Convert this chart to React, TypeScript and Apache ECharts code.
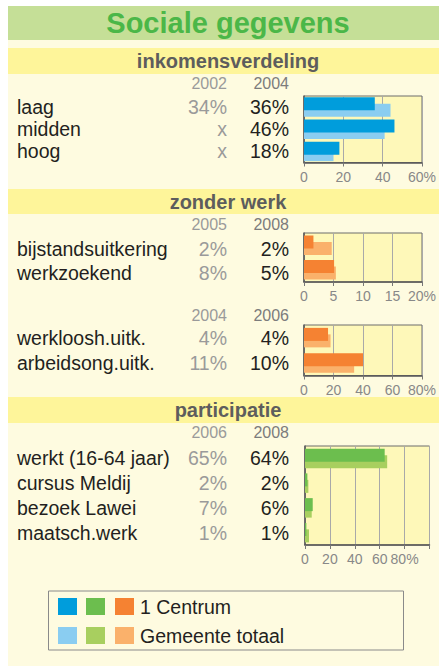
import React, { useEffect, useRef } from 'react';
import * as echarts from 'echarts';

// ---------- data ----------
const title = 'Sociale gegevens';
const sectionTitles = ['inkomensverdeling', 'zonder werk', 'participatie'];

const incomeCats = ['laag', 'midden', 'hoog'];
const incomeYears = ['2002', '2004'];
const incomeCol1 = ['34%', 'x', 'x'];
const incomeCol2 = ['36%', '46%', '18%'];
const incomeCentrum = [36, 46, 18];
const incomeGemeente = [44, 41, 15];
const incomeTicks = ['0', '20', '40', '60%'];

const benefitCats = ['bijstandsuitkering', 'werkzoekend'];
const benefitYears = ['2005', '2008'];
const benefitCol1 = ['2%', '8%'];
const benefitCol2 = ['2%', '5%'];
const benefitCentrum = [1.6, 5.1];
const benefitGemeente = [4.7, 5.4];
const benefitTicks = ['0', '5', '10', '15', '20%'];

const insuranceCats = ['werkloosh.uitk.', 'arbeidsong.uitk.'];
const insuranceYears = ['2004', '2006'];
const insuranceCol1 = ['4%', '11%'];
const insuranceCol2 = ['4%', '10%'];
const insuranceCentrum = [16.3, 40];
const insuranceGemeente = [18, 34];
const insuranceTicks = ['0', '20', '40', '60', '80%'];

const partCats = ['werkt (16-64 jaar)', 'cursus Meldij', 'bezoek Lawei', 'maatsch.werk'];
const partYears = ['2006', '2008'];
const partCol1 = ['65%', '2%', '7%', '1%'];
const partCol2 = ['64%', '2%', '6%', '1%'];
const partCentrum = [64, 1.9, 6.2, 1.1];
const partGemeente = [66, 2.7, 5.4, 3.2];
const partTicks = ['0', '20', '40', '60', '80%', ''];

const legendLabels = ['1 Centrum', 'Gemeente totaal'];
const legendDark = ['#009ddc', '#6cbe4e', '#f58232'];
const legendLight = ['#8acdf1', '#a8cf5f', '#fab16b'];

// ---------- styles ----------
const FONT = "'Liberation Sans', Arial, Helvetica, sans-serif";
const TEXT = '#231f20';
const GREY1 = '#9a9a9a';
const GREY2 = '#7c7c7c';
const ROW_FS = 19.5;

const blocks = [
  {
    cats: incomeCats, years: incomeYears, col1: incomeCol1, col2: incomeCol2,
    centrum: incomeCentrum, gemeente: incomeGemeente, ticks: incomeTicks,
    max: 60, interval: 20, dark: legendDark[0], light: legendLight[0],
    grid: { left: 304, top: 96, width: 125, height: 66.5 }, margin: 15, pad: 0, yearY: 83,
  },
  {
    cats: benefitCats, years: benefitYears, col1: benefitCol1, col2: benefitCol2,
    centrum: benefitCentrum, gemeente: benefitGemeente, ticks: benefitTicks,
    max: 20, interval: 5, dark: legendDark[2], light: legendLight[2],
    grid: { left: 304, top: 233, width: 125, height: 49 }, margin: 15, pad: 7, yearY: 224.5,
  },
  {
    cats: insuranceCats, years: insuranceYears, col1: insuranceCol1, col2: insuranceCol2,
    centrum: insuranceCentrum, gemeente: insuranceGemeente, ticks: insuranceTicks,
    max: 80, interval: 20, dark: legendDark[2], light: legendLight[2],
    grid: { left: 304, top: 325, width: 125, height: 50.5 }, margin: 15, pad: 0, yearY: 315,
  },
  {
    cats: partCats, years: partYears, col1: partCol1, col2: partCol2,
    centrum: partCentrum, gemeente: partGemeente, ticks: partTicks,
    max: 100, interval: 20, dark: legendDark[1], light: legendLight[1],
    grid: { left: 305, top: 446, width: 124.5, height: 99 }, margin: 16, pad: 0, yearY: 432.5,
  },
];

const bands = [
  { y: 48, h: 26 },
  { y: 189, h: 25 },
  { y: 397, h: 26 },
];

function App() {
  const ref = useRef<HTMLDivElement>(null);

  useEffect(() => {
    if (!ref.current) return;
    const chart = echarts.init(ref.current, null, { renderer: 'svg' });

    const grids: any[] = [];
    const xAxes: any[] = [];
    const yAxes: any[] = [];
    const series: any[] = [];
    const graphics: any[] = [];

    // backgrounds
    graphics.push({ type: 'rect', z: -10, shape: { x: 8, y: 6, width: 440, height: 670 }, style: { fill: '#fefbe0' } });
    graphics.push({ type: 'rect', z: -9, shape: { x: 8, y: 6, width: 440, height: 34 }, style: { fill: '#c5df97' } });
    graphics.push({
      type: 'text', z: 5, x: 228, y: 23,
      style: { text: title, fill: '#4bb748', font: `bold 29px ${FONT}`, align: 'center', verticalAlign: 'middle' },
    });
    bands.forEach((b, i) => {
      graphics.push({ type: 'rect', z: -9, shape: { x: 8, y: b.y, width: 440, height: b.h }, style: { fill: '#fef59a' } });
      graphics.push({
        type: 'text', z: 5, x: 228, y: b.y + b.h / 2,
        style: { text: sectionTitles[i], fill: '#5d5d5d', font: `bold 20px ${FONT}`, align: 'center', verticalAlign: 'middle' },
      });
    });

    blocks.forEach((b, i) => {
      grids.push({
        ...b.grid,
        show: true,
        backgroundColor: '#fef8b9',
        borderColor: '#6d6d6d',
        borderWidth: 1,
        containLabel: false,
      });
      xAxes.push({
        type: 'value', gridIndex: i, min: 0, max: b.max, interval: b.interval,
        axisLine: { show: true, lineStyle: { color: '#555', width: 1.5 } },
        axisTick: { show: true, length: 4, lineStyle: { color: '#777' } },
        splitLine: { show: true, lineStyle: { color: '#a9a9a9', width: 1 } },
        axisLabel: {
          show: true, color: '#888', fontSize: 14, fontFamily: FONT, margin: 7,
          formatter: (v: number) => b.ticks[Math.round(v / b.interval)] ?? '',
        },
      });
      yAxes.push({
        type: 'category', gridIndex: i, inverse: true, data: b.cats,
        axisLine: { show: true, lineStyle: { color: '#555', width: 1.5 } },
        axisTick: { show: false },
        splitLine: { show: false },
        axisLabel: {
          interval: 0, margin: b.margin, padding: [b.pad, 0, 0, 0],
          formatter: (v: string, idx: number) => `{a|${v}}{b|${b.col1[idx]}}{c|${b.col2[idx]}}`,
          rich: {
            a: { width: 150, align: 'left', color: TEXT, fontSize: ROW_FS, fontFamily: FONT },
            b: { width: 60, align: 'right', color: GREY1, fontSize: ROW_FS, fontFamily: FONT },
            c: { width: 62, align: 'right', color: TEXT, fontSize: ROW_FS, fontFamily: FONT },
          },
        },
      });
      series.push({
        type: 'bar', name: legendLabels[0], xAxisIndex: i, yAxisIndex: i, data: b.centrum,
        barWidth: 13, barGap: '-50%', z: 4, itemStyle: { color: b.dark }, silent: true,
      });
      series.push({
        type: 'bar', name: legendLabels[1], xAxisIndex: i, yAxisIndex: i, data: b.gemeente,
        barWidth: 13, barGap: '-50%', z: 3, itemStyle: { color: b.light }, silent: true,
      });
      // year headers
      b.years.forEach((yr, k) => {
        graphics.push({
          type: 'text', z: 5, x: k === 0 ? 227 : 289, y: b.yearY,
          style: { text: yr, fill: k === 0 ? GREY1 : GREY2, font: `16px ${FONT}`, align: 'right', verticalAlign: 'middle' },
        });
      });
    });

    // legend
    graphics.push({
      type: 'rect', z: 5, shape: { x: 48.5, y: 591, width: 355, height: 59 },
      style: { fill: 'none', stroke: '#8a8a8a', lineWidth: 1 },
    });
    const swX = [58, 86, 115];
    [legendDark, legendLight].forEach((cols, r) => {
      const y = r === 0 ? 598 : 627;
      cols.forEach((c, k) => {
        graphics.push({ type: 'rect', z: 5, shape: { x: swX[k], y, width: 19, height: 17 }, style: { fill: c } });
      });
      graphics.push({
        type: 'text', z: 5, x: 140, y: y + 8.5,
        style: { text: legendLabels[r], fill: TEXT, font: `19.5px ${FONT}`, align: 'left', verticalAlign: 'middle' },
      });
    });

    chart.setOption({
      animation: false,
      backgroundColor: '#ffffff',
      grid: grids,
      xAxis: xAxes,
      yAxis: yAxes,
      series,
      graphic: { elements: graphics },
    });

    return () => chart.dispose();
  }, []);

  return <div ref={ref} style={{ position: 'fixed', left: 0, top: 0, width: 439, height: 666 }} />;
}

export default App;
